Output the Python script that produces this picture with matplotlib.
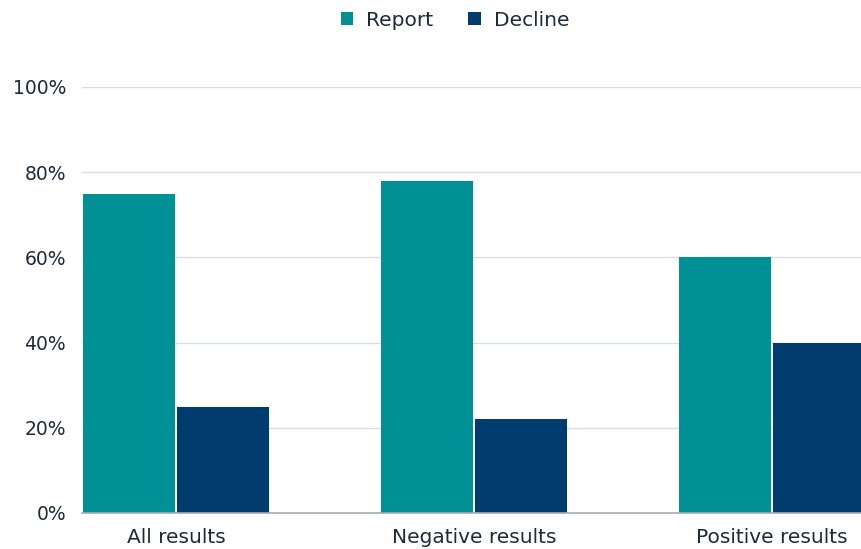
import matplotlib
matplotlib.use("Agg")
import matplotlib.pyplot as plt
import numpy as np

categories = ["All results", "Negative results", "Positive results"]
report = [75, 78, 60]
decline = [25, 22, 40]
series_names = ["Report", "Decline"]
yticks = [0, 20, 40, 60, 80, 100]
ytick_labels = ["0%", "20%", "40%", "60%", "80%", "100%"]

teal = "#009196"
navy = "#003d6e"
text_color = "#1c2b3a"

plt.rcParams['font.family'] = ['DejaVu Sans']

W, H = 861, 549
fig = plt.figure(figsize=(W / 100, H / 100), dpi=100)
left, right, top, bottom = 82, 866, 87, 513
ax = fig.add_axes([left / W, 1 - bottom / H, (right - left) / W, (bottom - top) / H])

x = np.arange(len(categories))
bw = 0.31
off = 0.158
ax.bar(x - off, report, width=bw, color=teal, label=series_names[0], zorder=3, linewidth=0)
ax.bar(x + off, decline, width=bw, color=navy, label=series_names[1], zorder=3, linewidth=0)

ax.set_xlim(-0.3154, 2.3154)
ax.set_ylim(0, 100)
ax.set_yticks(yticks)
ax.set_yticklabels(ytick_labels)
ax.set_xticks(x)
ax.set_xticklabels(categories)
ax.tick_params(axis='both', length=0, colors=text_color)
ax.tick_params(axis='y', pad=11.5, labelsize=13.5)
ax.tick_params(axis='x', pad=11, labelsize=14.5)
ax.yaxis.grid(True, color="#d9dee3", linewidth=1, zorder=0)
ax.set_axisbelow(True)
for s in ["top", "right", "left"]:
    ax.spines[s].set_visible(False)
ax.spines["bottom"].set_color("#a7abb0")
ax.spines["bottom"].set_linewidth(1.2)
ax.spines["bottom"].set_zorder(4)

leg = fig.legend(loc="center", bbox_to_anchor=(455 / W, 1 - 20 / H), ncol=2, frameon=False,
                 fontsize=14.5, handlelength=0.6, handleheight=0.6, handletextpad=0.65,
                 columnspacing=1.75)
for t in leg.get_texts():
    t.set_color(text_color)

fig.savefig("out.png", dpi=100)
